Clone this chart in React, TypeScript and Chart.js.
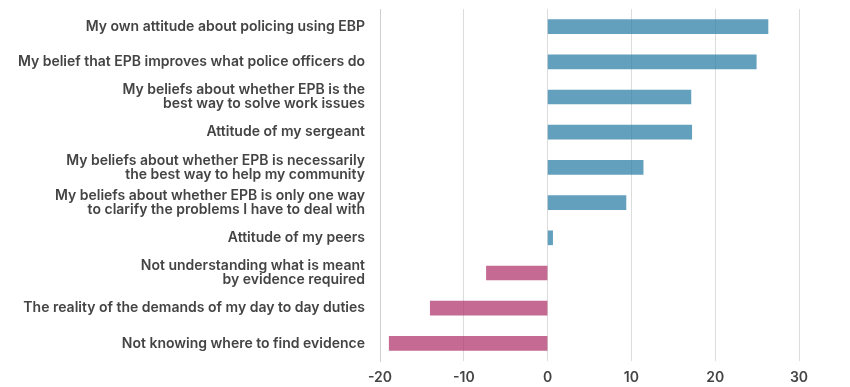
import React, { useEffect, useRef } from "react";
import { Chart, registerables } from "chart.js";

Chart.register(...registerables);

const categories: (string | string[])[] = [
  "My own attitude about policing using EBP",
  "My belief that EPB improves what police officers do",
  ["My beliefs about whether EPB is the", "best way to solve work issues"],
  "Attitude of my sergeant",
  ["My beliefs about whether EPB is necessarily", "the best way to help my community"],
  ["My beliefs about whether EPB is only one way", "to clarify the problems I have to deal with"],
  "Attitude of my peers",
  ["Not understanding what is meant", "by evidence required"],
  "The reality of the demands of my day to day duties",
  "Not knowing where to find evidence",
];

const values = [26.3, 24.9, 17.1, 17.2, 11.4, 9.35, 0.6, -7.3, -14.0, -18.9];

const xTicks = [-20, -10, 0, 10, 20, 30];

const positiveColor = "rgba(46,128,167,0.75)";
const negativeColor = "rgba(178,56,111,0.75)";

export default function App() {
  const canvasRef = useRef<HTMLCanvasElement | null>(null);

  useEffect(() => {
    document.body.style.margin = "0";
    const canvas = canvasRef.current;
    if (!canvas) return;
    const font = { family: "Inter, 'Open Sans', sans-serif", size: 14, weight: 600 as any, lineHeight: 1.0 };
    const chart = new Chart(canvas, {
      type: "bar",
      data: {
        labels: categories,
        datasets: [
          {
            data: values,
            backgroundColor: values.map((v) => (v >= 0 ? positiveColor : negativeColor)),
            barThickness: 14,
            borderWidth: 0,
          },
        ],
      },
      options: {
        indexAxis: "y",
        animation: false,
        responsive: false,
        maintainAspectRatio: false,
        layout: { padding: { top: 9, right: 51, left: 0, bottom: 0 } },
        plugins: { legend: { display: false }, tooltip: { enabled: false } },
        scales: {
          x: {
            type: "linear",
            min: xTicks[0],
            max: xTicks[xTicks.length - 1],
            afterBuildTicks: (axis: any) => {
              axis.ticks = xTicks.map((v) => ({ value: v }));
            },
            afterFit: (axis: any) => {
              axis.height = 26;
            },
            grid: { color: "#dcdcdc", lineWidth: 1, drawTicks: false },
            border: { display: false },
            ticks: { color: "#444", font, padding: 10 },
          },
          y: {
            afterFit: (axis: any) => {
              axis.width = 380;
              axis.paddingTop = 0;
              axis.paddingBottom = 0;
            },
            grid: { display: false, drawTicks: false },
            border: { display: true, color: "#cfcfcf", width: 1 },
            ticks: { color: "#444", font, padding: 15 },
          },
        },
      },
    });
    return () => chart.destroy();
  }, []);

  return (
    <div style={{ width: 850, height: 387, background: "#fff" }}>
      <canvas ref={canvasRef} width={850} height={387} />
    </div>
  );
}
